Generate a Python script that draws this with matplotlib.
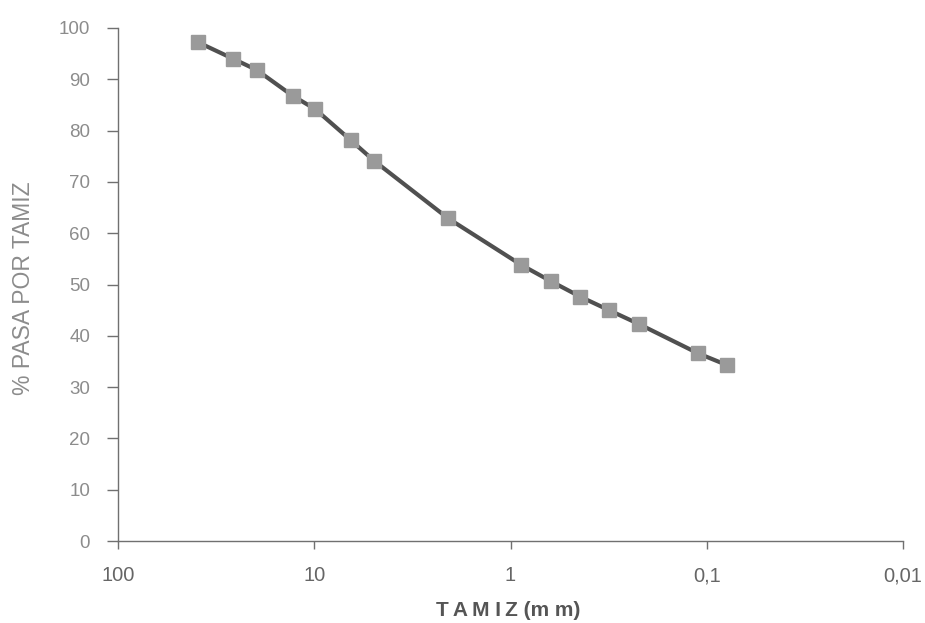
import matplotlib
matplotlib.use("Agg")
import matplotlib.pyplot as plt
from matplotlib.ticker import FixedLocator, FixedFormatter, NullLocator

# Sieve openings (mm) and cumulative percent passing
tamiz_mm = [39.0, 25.9, 19.6, 12.9, 9.9, 6.5, 4.95, 2.08, 0.88, 0.62, 0.44, 0.315, 0.222, 0.111, 0.079]
pasa_pct = [97.2, 94.0, 91.8, 86.8, 84.2, 78.1, 74.1, 62.9, 53.8, 50.6, 47.6, 45.0, 42.3, 36.6, 34.3]

x_ticks = [100, 10, 1, 0.1, 0.01]
x_tick_labels = ["100", "10", "1", "0,1", "0,01"]
y_ticks = [0, 10, 20, 30, 40, 50, 60, 70, 80, 90, 100]

plt.rcParams["font.family"] = ["Liberation Sans", "DejaVu Sans"]

fig = plt.figure(figsize=(9.25, 6.23), dpi=100)
ax = fig.add_axes([118 / 925, 1 - 541 / 623, 785 / 925, 513 / 623])

ax.plot(tamiz_mm, pasa_pct, color="#505050", linewidth=3.0, solid_joinstyle="round",
        marker="s", markersize=9.5, markerfacecolor="#9a9a9a", markeredgecolor="#9a9a9a",
        zorder=3)

ax.set_xscale("log")
ax.set_xlim(100, 0.01)
ax.set_ylim(0, 100)

ax.xaxis.set_major_locator(FixedLocator(x_ticks))
ax.xaxis.set_major_formatter(FixedFormatter(x_tick_labels))
ax.xaxis.set_minor_locator(NullLocator())
ax.yaxis.set_major_locator(FixedLocator(y_ticks))

for side in ("top", "right"):
    ax.spines[side].set_visible(False)
for side in ("left", "bottom"):
    ax.spines[side].set_color("#707070")
    ax.spines[side].set_linewidth(1.0)

ax.tick_params(axis="y", direction="out", length=8, width=1, color="#707070",
               labelsize=13.5, labelcolor="#8c8c8c", pad=12)
ax.tick_params(axis="x", direction="out", length=6, width=1, color="#707070",
               labelsize=14.5, labelcolor="#666666", pad=12)

ax.set_xlabel("T\u2009A\u2009M I\u2009Z (m m)", fontsize=15, color="#555555", fontweight="bold")
ax.xaxis.set_label_coords((508 - 118) / 785, -(610 - 541) / 513)
ax.xaxis.label.set_verticalalignment("center")

ax.set_ylabel("% PASA POR TAMIZ", fontsize=16.5, color="#8c8c8c")
ax.yaxis.set_label_coords(-(118 - 24) / 785, (541 - 288) / 513)
ax.yaxis.label.set_verticalalignment("center")

fig.savefig("out.png", dpi=100, facecolor="white")
